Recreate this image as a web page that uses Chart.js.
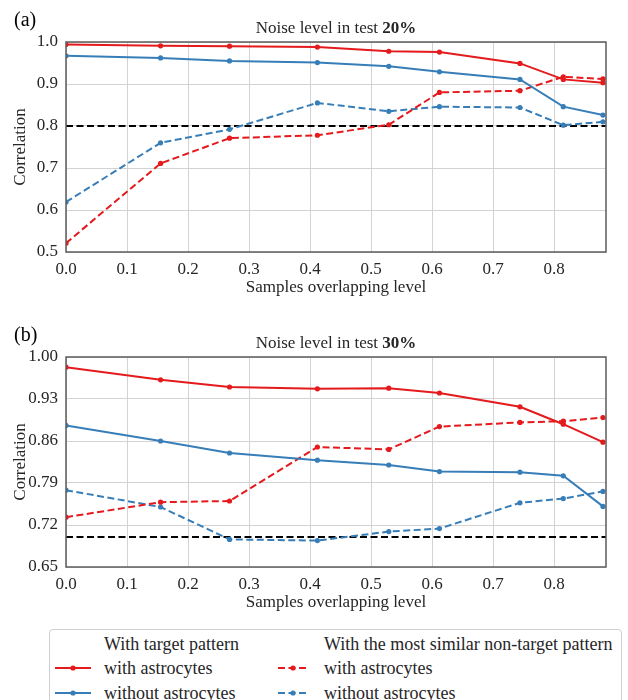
<!DOCTYPE html>
<html>
<head>
<meta charset="utf-8">
<script src="https://cdn.jsdelivr.net/npm/chart.js@4.4.1/dist/chart.umd.min.js"></script>
<style>
  body { margin: 0; background: #fff; width: 628px; height: 700px; overflow: hidden; position: relative; font-family: "Liberation Serif", serif; color: #262626; }
  canvas { position: absolute; left: 0; }
  #chart20 { top: 0; }
  #chart30 { top: 315px; }
  #legend { position: absolute; left: 49px; top: 629px; width: 573px; height: 90px; border: 1px solid #d0d0d0; border-radius: 4px; box-sizing: border-box; }
  .lg { position: absolute; font-size: 18px; line-height: 20px; white-space: nowrap; }
  .lg svg { position: absolute; }
</style>
</head>
<body>
<canvas id="chart20" width="628" height="310"></canvas>
<canvas id="chart30" width="628" height="310"></canvas>
<div id="legend"></div>
<script>
// Samples overlapping level (shared x values)
const overlapX = [0, 0.155, 0.268, 0.412, 0.529, 0.612, 0.744, 0.815, 0.880];
const xTicks = [0, 0.1, 0.2, 0.3, 0.4, 0.5, 0.6, 0.7, 0.8];
const xMax = 0.885;

// Noise level 20%
const t20WithAstro = [0.994, 0.991, 0.990, 0.988, 0.978, 0.976, 0.949, 0.911, 0.903];
const t20WithoutAstro = [0.967, 0.962, 0.955, 0.951, 0.942, 0.929, 0.911, 0.846, 0.826];
const n20WithAstro = [0.521, 0.711, 0.771, 0.778, 0.803, 0.880, 0.884, 0.917, 0.912];
const n20WithoutAstro = [0.619, 0.760, 0.792, 0.855, 0.835, 0.846, 0.844, 0.802, 0.810];
const yTicks20 = [0.5, 0.6, 0.7, 0.8, 0.9, 1.0];
const threshold20 = 0.8;

// Noise level 30%
const t30WithAstro = [0.983, 0.962, 0.950, 0.947, 0.948, 0.940, 0.917, 0.888, 0.858];
const t30WithoutAstro = [0.886, 0.860, 0.840, 0.828, 0.820, 0.809, 0.808, 0.802, 0.751];
const n30WithAstro = [0.733, 0.758, 0.760, 0.850, 0.846, 0.884, 0.891, 0.893, 0.899];
const n30WithoutAstro = [0.778, 0.750, 0.696, 0.694, 0.709, 0.714, 0.757, 0.764, 0.776];
const yTicks30 = [0.65, 0.72, 0.79, 0.86, 0.93, 1.00];
const threshold30 = 0.7;

const RED = '#e41a1c';
const BLUE = '#377eb8';
const TEXT = '#262626';
const FONT = '"Liberation Serif", serif';
const DASH = [7, 3.5];

const toPoints = (ys) => ys.map((y, i) => ({ x: overlapX[i], y }));

// frame on all four sides plus the panel label and mixed-weight title
const panelDecor = {
  id: 'panelDecor',
  afterDatasetsDraw(chart, args, opts) {
    const { ctx, chartArea: a } = chart;
    ctx.save();
    ctx.strokeStyle = '#5c5c5c';
    ctx.lineWidth = 1.5;
    ctx.strokeRect(a.left, a.top, a.right - a.left, a.bottom - a.top);
    ctx.restore();
  },
  afterDraw(chart, args, opts) {
    const { ctx, chartArea: a } = chart;
    ctx.save();
    ctx.fillStyle = '#000';
    ctx.font = `20px ${FONT}`;
    ctx.textBaseline = 'middle';
    ctx.textAlign = 'left';
    ctx.fillText(opts.label, 14, 21);

    ctx.fillStyle = TEXT;
    const normal = `17px ${FONT}`;
    const bold = `bold 17px ${FONT}`;
    const part1 = 'Noise level in test ';
    ctx.font = normal;
    const w1 = ctx.measureText(part1).width;
    ctx.font = bold;
    const w2 = ctx.measureText(opts.pct).width;
    const x0 = (a.left + a.right) / 2 - (w1 + w2) / 2;
    ctx.textBaseline = 'alphabetic';
    ctx.font = normal;
    ctx.fillText(part1, x0, 33);
    ctx.font = bold;
    ctx.fillText(opts.pct, x0 + w1, 33);
    ctx.restore();
  },
};

function makePanel(id, label, pct, series, yTicks, threshold, decimals) {
  const line = (ys, color, dashed) => ({
    data: toPoints(ys),
    borderColor: color,
    backgroundColor: color,
    borderWidth: 2,
    borderDash: dashed ? DASH : [],
    pointRadius: 2.6,
    pointHoverRadius: 2.6,
    pointBorderWidth: 0,
    tension: 0,
  });
  const datasets = [
    line(series[0], RED, false),
    line(series[1], BLUE, false),
    line(series[2], RED, true),
    line(series[3], BLUE, true),
    {
      data: [{ x: 0, y: threshold }, { x: xMax, y: threshold }],
      borderColor: '#000',
      borderWidth: 2.2,
      borderDash: DASH,
      pointRadius: 0,
      order: 10,
    },
  ];

  // eslint-disable-next-line no-new
  new Chart(document.getElementById(id), {
    type: 'line',
    data: { datasets },
    plugins: [panelDecor],
    options: {
      responsive: false,
      animation: false,
      layout: { padding: { left: 0, right: 22, top: 42, bottom: 0 } },
      plugins: {
        legend: { display: false },
        tooltip: { enabled: false },
        panelDecor: { label, pct },
      },
      scales: {
        x: {
          type: 'linear',
          min: 0,
          max: xMax,
          afterBuildTicks: (s) => { s.ticks = xTicks.map((v) => ({ value: v })); },
          afterFit: (s) => { s.height = 58; },
          grid: { color: '#d3d3d3', lineWidth: 1, drawTicks: false },
          border: { display: false },
          ticks: {
            color: TEXT,
            padding: 7,
            maxRotation: 0,
            font: { family: FONT, size: 17 },
            callback: (v) => Number(v).toFixed(1),
          },
          title: {
            display: true,
            text: 'Samples overlapping level',
            color: TEXT,
            font: { family: FONT, size: 17 },
            padding: { top: 0, bottom: 12 },
          },
        },
        y: {
          type: 'linear',
          min: yTicks[0],
          max: yTicks[yTicks.length - 1],
          afterBuildTicks: (s) => { s.ticks = yTicks.map((v) => ({ value: v })); },
          afterFit: (s) => { s.width = 66; },
          grid: { color: '#d3d3d3', lineWidth: 1, drawTicks: false },
          border: { display: false },
          ticks: {
            color: TEXT,
            padding: 8,
            font: { family: FONT, size: 17 },
            callback: (v) => Number(v).toFixed(decimals),
          },
          title: {
            display: true,
            text: 'Correlation',
            color: TEXT,
            font: { family: FONT, size: 17 },
            padding: { top: 10, bottom: 0 },
          },
        },
      },
    },
  });
}

makePanel('chart20', '(a)', '20%',
  [t20WithAstro, t20WithoutAstro, n20WithAstro, n20WithoutAstro], yTicks20, threshold20, 1);
makePanel('chart30', '(b)', '30%',
  [t30WithAstro, t30WithoutAstro, n30WithAstro, n30WithoutAstro], yTicks30, threshold30, 2);

// Legend: two titled columns
function sample(color, dashed) {
  const dash = dashed ? 'stroke-dasharray="7 3.5"' : '';
  const w = dashed ? 30 : 36;
  return `<svg width="${w}" height="8" viewBox="0 0 ${w} 8"><line x1="0" y1="4" x2="${w}" y2="4" stroke="${color}" stroke-width="2" ${dash}/><circle cx="${w / 2}" cy="4" r="2.6" fill="${color}"/></svg>`;
}
const legendCols = [
  { title: 'With target pattern', lineX: 5, textX: 54, dashed: false },
  { title: 'With the most similar non-target pattern', lineX: 228, textX: 274, dashed: true },
];
const legendRows = [
  { text: 'with astrocytes', color: RED },
  { text: 'without astrocytes', color: BLUE },
];
const legendEl = document.getElementById('legend');
let html = '';
legendCols.forEach((c) => {
  html += `<div class="lg" style="left:${c.textX}px;top:4px">${c.title}</div>`;
  legendRows.forEach((r, i) => {
    const top = 28 + i * 25;
    html += `<div class="lg" style="left:${c.lineX}px;top:${top + 6}px">${sample(r.color, c.dashed)}</div>`;
    html += `<div class="lg" style="left:${c.textX}px;top:${top}px">${r.text}</div>`;
  });
});
legendEl.innerHTML = html;
</script>
</body>
</html>
